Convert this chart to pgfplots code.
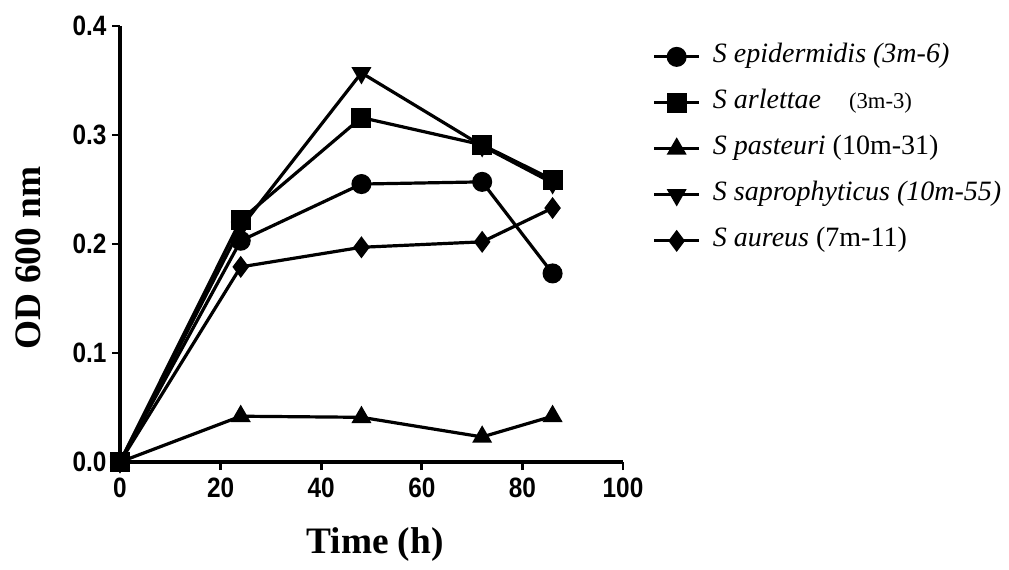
\documentclass[border=0pt]{standalone}
\usepackage{fontspec}
\setmainfont{Liberation Serif}
\newfontfamily\ticfont{Liberation Sans}[FakeStretch=0.87]
\usepackage{pgfplots}
\pgfplotsset{compat=1.18}
\begin{document}
\begin{tikzpicture}
\path (0,0) rectangle (756.75pt,426.75pt);
\begin{axis}[
  at={(90pt,80.25pt)}, anchor=south west,
  scale only axis, width=377.25pt, height=327pt,
  xmin=0, xmax=100, ymin=0, ymax=0.4,
  enlargelimits=false, clip=false,
  axis lines=left,
  axis line style={-, line width=2.3pt},
  tick style={line width=2pt, black},
  tick align=outside, major tick length=6pt,
  xtick={0,20,40,60,80,100},
  ytick={0,0.1,0.2,0.3,0.4},
  /pgf/number format/assume math mode=true,
  yticklabel style={xshift=-2pt, /pgf/number format/.cd, fixed, fixed zerofill, precision=1},
  tick label style={font=\ticfont\bfseries\fontsize{21}{24}\selectfont, inner sep=2pt},
  xticklabel style={yshift=-4pt},
  xlabel={Time (h)},
  ylabel={OD 600 nm},
  label style={font=\bfseries\fontsize{28}{32}\selectfont},
  xlabel style={at={(axis description cs:0.507,-0.19)}, anchor=center},
  ylabel style={at={(axis description cs:-0.183,0.468)}, anchor=center},
  every axis plot/.append style={black, line width=2.4pt, mark size=6.3pt, mark options={solid}},
  legend style={draw=none, fill=none, at={(axis description cs:1.05,0.965)}, anchor=north west,
    font=\fontsize{21}{24}\selectfont, row sep=15.5pt,
    nodes={inner sep=0pt, text height=14pt, text depth=5pt},
    /tikz/every odd column/.append style={column sep=9pt}},
  legend cell align=left,
  legend image code/.code={\draw[#1, mark repeat=2, mark phase=2] plot coordinates {(0pt,0pt) (17pt,0pt) (34pt,0pt)};},
]
\addplot[mark=*] coordinates {(0,0) (24,0.203) (48,0.255) (72,0.257) (86,0.173)};
\addlegendentry{\textit{S epidermidis (3m-6)}}
\addplot[mark=square*] coordinates {(0,0) (24,0.222) (48,0.316) (72,0.291) (86,0.259)};
\addlegendentry{\textit{S arlettae}\quad{\fontsize{17}{20}\selectfont(3m-3)}}
\addplot[mark=triangle*] coordinates {(0,0) (24,0.042) (48,0.041) (72,0.023) (86,0.042)};
\addlegendentry{\textit{S pasteuri} (10m-31)}
\addplot[mark=triangle*, mark options={rotate=180}] coordinates {(0,0) (24,0.215) (48,0.357) (72,0.290) (86,0.256)};
\addlegendentry{\textit{S saprophyticus (10m-55)}}
\addplot[mark=diamond*] coordinates {(0,0) (24,0.179) (48,0.197) (72,0.202) (86,0.233)};
\addlegendentry{\textit{S aureus} (7m-11)}
\end{axis}
\end{tikzpicture}
\end{document}
